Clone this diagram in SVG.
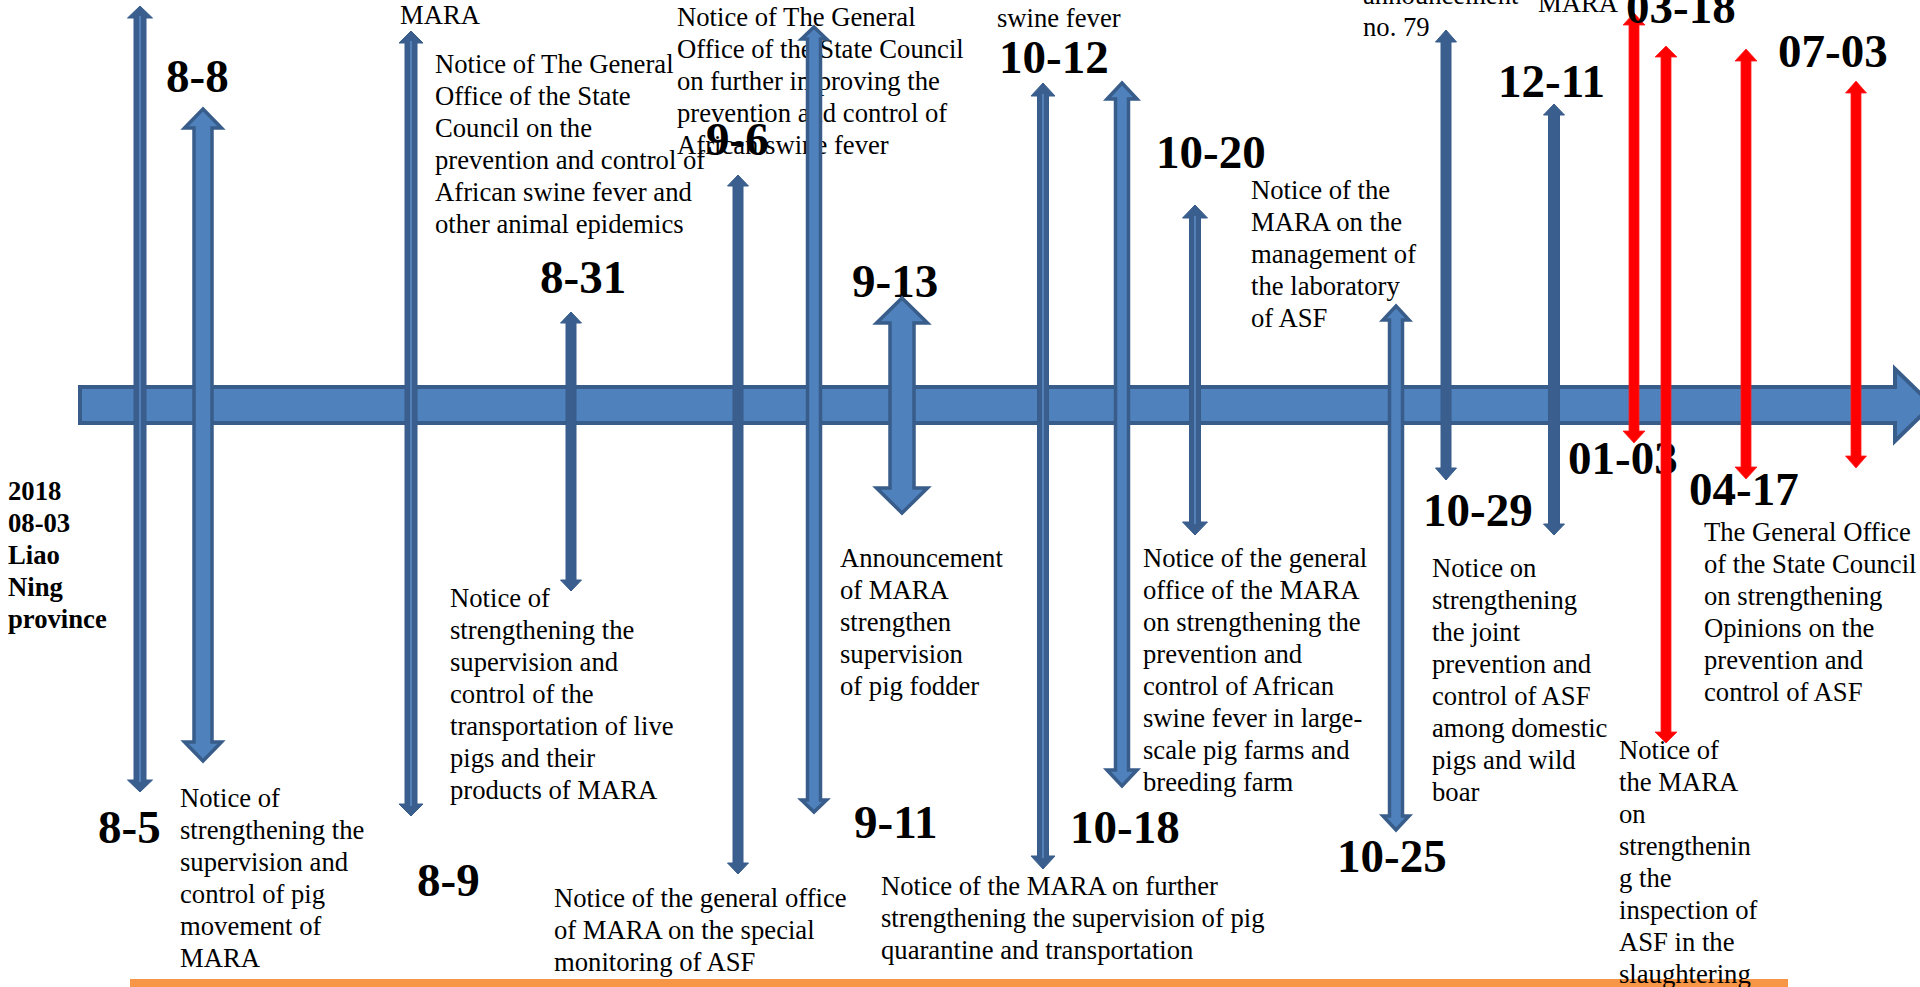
<svg xmlns="http://www.w3.org/2000/svg" width="1920" height="987" viewBox="0 0 1920 987">
<style>
.t{font-family:"Liberation Serif","Times New Roman",serif;font-size:26.67px;fill:#000}
.tb{font-family:"Liberation Serif","Times New Roman",serif;font-size:26.67px;font-weight:bold;fill:#000}
.d{font-family:"Liberation Serif","Times New Roman",serif;font-size:47px;font-weight:bold;fill:#000}
.thin{fill:#3a5f8e;stroke:#385d8a;stroke-width:1}
.thick{fill:#4f81bd;stroke:#385d8a;stroke-width:3.5;stroke-linejoin:miter}
.med{fill:#4f81bd;stroke:#385d8a;stroke-width:3.5;stroke-linejoin:miter}
.stripe{stroke:#5b8bc4;stroke-width:1.5}
.red{fill:#ff0000;stroke:#ff2020;stroke-width:0.8}
</style>
<rect width="1920" height="987" fill="#ffffff"/>
<g id="timeline">
<polygon points="80,387 1895,387 1895,369 1932,405 1895,441 1895,423 80,423" fill="#4f81bd" stroke="#385d8a" stroke-width="4"/>
</g>
<rect id="footer-line" x="130" y="979" width="1658" height="10" fill="#f79646"/>

<g id="texts">
<text class="t" x="400" y="24">MARA</text>
<text class="t" x="435" y="73"><tspan x="435">Notice of The General</tspan><tspan x="435" dy="32">Office of the State</tspan><tspan x="435" dy="32">Council on the</tspan><tspan x="435" dy="32">prevention and control of</tspan><tspan x="435" dy="32">African swine fever and</tspan><tspan x="435" dy="32">other animal epidemics</tspan></text>
<text class="t" x="677" y="26"><tspan x="677">Notice of The General</tspan><tspan x="677" dy="32">Office of the State Council</tspan><tspan x="677" dy="32">on further improving the</tspan><tspan x="677" dy="32">prevention and control of</tspan><tspan x="677" dy="32">African swine fever</tspan></text>
<text class="t" x="997" y="27">swine fever</text>
<text class="t" x="1363" y="4"><tspan x="1363">announcement</tspan><tspan x="1363" dy="32">no. 79</tspan></text>
<text class="t" x="1538" y="12">MARA</text>
<text class="t" x="1251" y="199"><tspan x="1251">Notice of the</tspan><tspan x="1251" dy="32">MARA on the</tspan><tspan x="1251" dy="32">management of</tspan><tspan x="1251" dy="32">the laboratory</tspan><tspan x="1251" dy="32">of ASF</tspan></text>
<text class="tb" x="8" y="500"><tspan x="8">2018</tspan><tspan x="8" dy="32">08-03</tspan><tspan x="8" dy="32">Liao</tspan><tspan x="8" dy="32">Ning</tspan><tspan x="8" dy="32">province</tspan></text>
<text class="t" x="450" y="607"><tspan x="450">Notice of</tspan><tspan x="450" dy="32">strengthening the</tspan><tspan x="450" dy="32">supervision and</tspan><tspan x="450" dy="32">control of the</tspan><tspan x="450" dy="32">transportation of live</tspan><tspan x="450" dy="32">pigs and their</tspan><tspan x="450" dy="32">products of MARA</tspan></text>
<text class="t" x="180" y="807"><tspan x="180">Notice of</tspan><tspan x="180" dy="32">strengthening the</tspan><tspan x="180" dy="32">supervision and</tspan><tspan x="180" dy="32">control of pig</tspan><tspan x="180" dy="32">movement of</tspan><tspan x="180" dy="32">MARA</tspan></text>
<text class="t" x="554" y="907"><tspan x="554">Notice of the general office</tspan><tspan x="554" dy="32">of MARA on the special</tspan><tspan x="554" dy="32">monitoring of ASF</tspan></text>
<text class="t" x="840" y="567"><tspan x="840">Announcement</tspan><tspan x="840" dy="32">of MARA</tspan><tspan x="840" dy="32">strengthen</tspan><tspan x="840" dy="32">supervision</tspan><tspan x="840" dy="32">of pig fodder</tspan></text>
<text class="t" x="881" y="895"><tspan x="881">Notice of the MARA on further</tspan><tspan x="881" dy="32">strengthening the supervision of pig</tspan><tspan x="881" dy="32">quarantine and transportation</tspan></text>
<text class="t" x="1143" y="567"><tspan x="1143">Notice of the general</tspan><tspan x="1143" dy="32">office of the MARA</tspan><tspan x="1143" dy="32">on strengthening the</tspan><tspan x="1143" dy="32">prevention and</tspan><tspan x="1143" dy="32">control of African</tspan><tspan x="1143" dy="32">swine fever in large-</tspan><tspan x="1143" dy="32">scale pig farms and</tspan><tspan x="1143" dy="32">breeding farm</tspan></text>
<text class="t" x="1432" y="577"><tspan x="1432">Notice on</tspan><tspan x="1432" dy="32">strengthening</tspan><tspan x="1432" dy="32">the joint</tspan><tspan x="1432" dy="32">prevention and</tspan><tspan x="1432" dy="32">control of ASF</tspan><tspan x="1432" dy="32">among domestic</tspan><tspan x="1432" dy="32">pigs and wild</tspan><tspan x="1432" dy="32">boar</tspan></text>
<text class="t" x="1704" y="541"><tspan x="1704">The General Office</tspan><tspan x="1704" dy="32">of the State Council</tspan><tspan x="1704" dy="32">on strengthening</tspan><tspan x="1704" dy="32">Opinions on the</tspan><tspan x="1704" dy="32">prevention and</tspan><tspan x="1704" dy="32">control of ASF</tspan></text>
<text class="t" x="1619" y="759"><tspan x="1619">Notice of</tspan><tspan x="1619" dy="32">the MARA</tspan><tspan x="1619" dy="32">on</tspan><tspan x="1619" dy="32">strengthenin</tspan><tspan x="1619" dy="32">g the</tspan><tspan x="1619" dy="32">inspection of</tspan><tspan x="1619" dy="32">ASF in the</tspan><tspan x="1619" dy="32">slaughtering</tspan></text>
</g>

<g id="labels">
<text class="d" x="166" y="92">8-8</text>
<text class="d" x="540" y="293">8-31</text>
<text class="d" x="706" y="155">9-6</text>
<text class="d" x="852" y="297">9-13</text>
<text class="d" x="999" y="73">10-12</text>
<text class="d" x="1156" y="168">10-20</text>
<text class="d" x="1498" y="97">12-11</text>
<text class="d" x="1778" y="67">07-03</text>
<text class="d" x="1568" y="474">01-03</text>
<text class="d" x="1689" y="505">04-17</text>
<text class="d" x="1423" y="526">10-29</text>
<text class="d" x="98" y="843">8-5</text>
<text class="d" x="417" y="896">8-9</text>
<text class="d" x="854" y="838">9-11</text>
<text class="d" x="1070" y="843">10-18</text>
<text class="d" x="1337" y="872">10-25</text>
</g>

<g id="connectors">
<g id="arrow-8-5"><polygon class="thin" points="140,6 152.5,18 146,18 146,780 152.5,780 140,792 127.5,780 134,780 134,18 127.5,18"/><line class="stripe" x1="140" y1="16" x2="140" y2="782"/></g>
<g id="arrow-8-8"><polygon class="thick" points="203,109 221.5,128 212,128 212,742 221.5,742 203,761 184.5,742 194,742 194,128 184.5,128"/></g>
<g id="arrow-8-9"><polygon class="thin" points="411,31 423,43 417,43 417,804 423,804 411,816 399,804 405,804 405,43 399,43"/><line class="stripe" x1="411" y1="41" x2="411" y2="806"/></g>
<g id="arrow-8-31"><polygon class="thin" points="571,312 581.5,323 576,323 576,580 581.5,580 571,591 560.5,580 566,580 566,323 560.5,323"/></g>
<g id="arrow-9-6"><polygon class="thin" points="738,175 748.5,186 743,186 743,863 748.5,863 738,874 727.5,863 733,863 733,186 727.5,186"/></g>
<g id="arrow-9-11"><polygon class="med" points="814,27 826.5,39 820.5,39 820.5,800 826.5,800 814,812 801.5,800 807.5,800 807.5,39 801.5,39"/></g>
<g id="arrow-9-13"><polygon class="thick" points="902,298 927.5,323 914,323 914,488 927.5,488 902,513 876.5,488 890,488 890,323 876.5,323"/></g>
<g id="arrow-10-12"><polygon class="thin" points="1043,83 1055,96 1048.5,96 1048.5,856 1055,856 1043,869 1031,856 1037.5,856 1037.5,96 1031,96"/><line class="stripe" x1="1043" y1="94" x2="1043" y2="858"/></g>
<g id="arrow-10-18"><polygon class="med" points="1122,83 1137,99 1128.5,99 1128.5,770 1137,770 1122,786 1107,770 1115.5,770 1115.5,99 1107,99"/></g>
<g id="arrow-10-20"><polygon class="thin" points="1195,205 1207.5,218 1200.5,218 1200.5,522 1207.5,522 1195,535 1182.5,522 1189.5,522 1189.5,218 1182.5,218"/><line class="stripe" x1="1195" y1="216" x2="1195" y2="524"/></g>
<g id="arrow-10-25"><polygon class="med" points="1396,306 1409,320 1402.5,320 1402.5,816 1409,816 1396,830 1383,816 1389.5,816 1389.5,320 1383,320"/></g>
<g id="arrow-10-29"><polygon class="thin" points="1446,30 1456.5,42 1451,42 1451,468 1456.5,468 1446,480 1435.5,468 1441,468 1441,42 1435.5,42"/></g>
<g id="arrow-12-11"><polygon class="thin" points="1554,104 1564.5,115 1559.5,115 1559.5,524 1564.5,524 1554,535 1543.5,524 1548.5,524 1548.5,115 1543.5,115"/></g>
<g id="arrow-01-03"><polygon class="red" points="1634,13 1645,25 1639,25 1639,431 1645,431 1634,443 1623,431 1629,431 1629,25 1623,25"/></g>
<g id="arrow-03-18"><polygon class="red" points="1666,46 1677,57 1671,57 1671,732 1677,732 1666,743 1655,732 1661,732 1661,57 1655,57"/></g>
<g id="arrow-04-17"><polygon class="red" points="1746,49 1757,61 1751,61 1751,467 1757,467 1746,479 1735,467 1741,467 1741,61 1735,61"/></g>
<g id="arrow-07-03"><polygon class="red" points="1856,81 1866.5,93 1861,93 1861,456 1866.5,456 1856,468 1845.5,456 1851,456 1851,93 1845.5,93"/></g>
</g>

<g id="label-03-18">
<text class="d" x="1626" y="23">03-18</text>
</g>
</svg>
